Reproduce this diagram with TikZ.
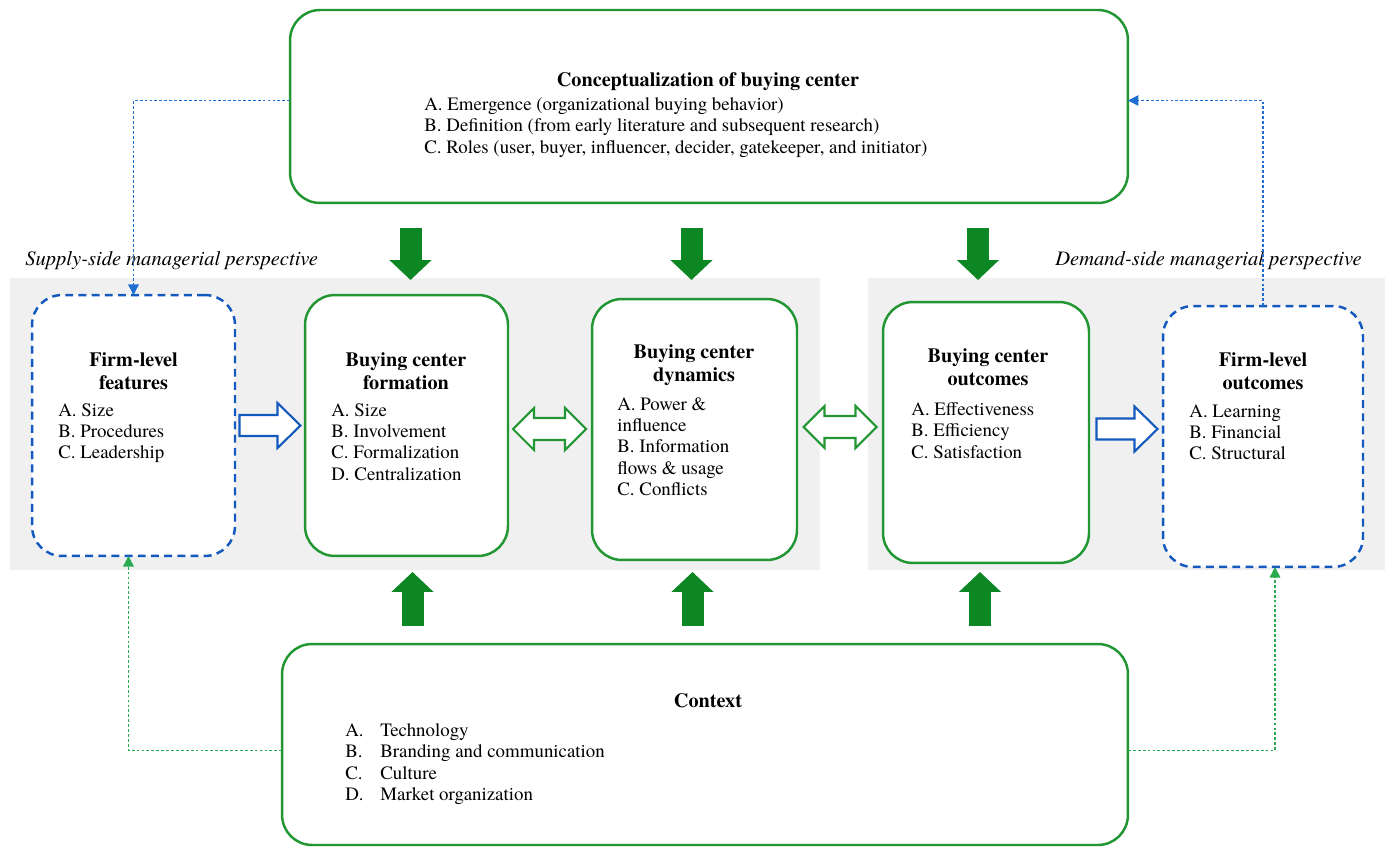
\documentclass[tikz,border=0pt]{standalone}
\usepackage{fontspec}
\IfFontExistsTF{texgyretermes-regular.otf}{%
  \setmainfont{texgyretermes}[Extension=.otf,UprightFont=*-regular,BoldFont=*-bold,ItalicFont=*-italic,BoldItalicFont=*-bolditalic]}{%
  \setmainfont{Liberation Serif}}
\usetikzlibrary{arrows.meta,calc}
\definecolor{bgreen}{RGB}{34,150,50}
\definecolor{agreen}{RGB}{12,135,35}
\definecolor{bblue}{RGB}{20,90,190}
\definecolor{dblue}{RGB}{30,110,210}
\definecolor{dgreen}{RGB}{40,170,80}
\definecolor{band}{RGB}{240,240,240}
\begin{document}
\begin{tikzpicture}[x=0.02cm,y=-0.02cm,
  gbox/.style={draw=bgreen, line width=1.4pt, rounded corners=0.6cm, fill=white, inner sep=0pt, outer sep=0pt},
  bbox/.style={draw=bblue, line width=1.4pt, dash pattern=on 4.5pt off 3pt, rounded corners=0.6cm, fill=white, inner sep=0pt, outer sep=0pt},
  ttl/.style={font=\fontsize{11.5}{13}\selectfont\bfseries, align=center, anchor=north, inner sep=0pt},
  itm/.style={font=\fontsize{10.75}{12.2}\selectfont, align=left, anchor=north west, inner sep=0pt},
  persp/.style={font=\fontsize{11.7}{13}\selectfont\itshape, anchor=north west, inner sep=0pt},
  bigarrow/.style={draw=agreen, line width=0.44cm, -{Triangle[length=0.4cm,width=0.82cm]}},
  hollowblue/.style={draw=bblue, line width=1.2pt, fill=white},
  hollowgreen/.style={draw=bgreen, line width=1.2pt, fill=white},
  dotb/.style={draw=dblue, line width=0.8pt, dash pattern=on 1.6pt off 1.2pt, -{Triangle[length=6pt,width=6pt]}},
  dotg/.style={draw=dgreen, line width=0.8pt, dash pattern=on 1.6pt off 1.2pt, -{Triangle[length=6pt,width=6pt]}}
]
\useasboundingbox (0,0) rectangle (1391,847);
% background bands
\fill[band] (10,278) rectangle (820,570);
\fill[band] (868,278) rectangle (1385,570);

% perspectives
\node[persp] (lsup) at (25,251) {Supply-side managerial perspective};
\node[persp] (ldem) at (1055,251) {Demand-side managerial perspective};

% boxes
\node[gbox, minimum width=16.76cm, minimum height=3.86cm] (concept) at (709,106.5) {};
\node[gbox, minimum width=16.92cm, minimum height=4.02cm] (ctx) at (705,744.5) {};
\node[bbox, minimum width=4.06cm, minimum height=5.22cm] (feat) at (133.5,425.5) {};
\node[gbox, minimum width=4.06cm, minimum height=5.22cm] (form) at (406.5,425.5) {};
\node[gbox, minimum width=4.10cm, minimum height=5.22cm] (dyn) at (694.5,429.5) {};
\node[gbox, minimum width=4.12cm, minimum height=5.22cm] (outc) at (986,432.5) {};
\node[bbox, minimum width=4.00cm, minimum height=5.22cm] (fout) at (1263,436.5) {};

% texts
\node[ttl] (tconcept) at (708,72) {Conceptualization of buying center};
\node[itm] (iconcept) at (424,97) {A. Emergence (organizational buying behavior)\\B. Definition (from early literature and subsequent research)\\C. Roles (user, buyer, influencer, decider, gatekeeper, and initiator)};

\node[ttl] (tfeat) at (133.5,352) {Firm-level\\features};
\node[itm] (ifeat) at (58,403) {A. Size\\B. Procedures\\C. Leadership};

\node[ttl] (tform) at (406,352) {Buying center\\formation};
\node[itm] (iform) at (331,403) {A. Size\\B. Involvement\\C. Formalization\\D. Centralization};

\node[ttl] (tdyn) at (694,344) {Buying center\\dynamics};
\node[itm] (idyn) at (617,397) {A. Power \&\\influence\\B. Information\\flows \& usage\\C. Conflicts};

\node[ttl] (toutc) at (988,348) {Buying center\\outcomes};
\node[itm] (ioutc) at (911,402) {A. Effectiveness\\B. Efficiency\\C. Satisfaction};

\node[ttl] (tfout) at (1263,352) {Firm-level\\outcomes};
\node[itm] (ifout) at (1189,404) {A. Learning\\B. Financial\\C. Structural};

\node[ttl] (tctx) at (708,693) {Context};
\node[itm] (ictx) at (345,723) {\makebox[0.7cm][l]{A.}Technology\\\makebox[0.7cm][l]{B.}Branding and communication\\\makebox[0.7cm][l]{C.}Culture\\\makebox[0.7cm][l]{D.}Market organization};

% big green arrows from concept
\draw[bigarrow] ($(concept.south -| form.north)+(4,25)$) -- ($(form.north)+(4,-15)$);
\draw[bigarrow] ($(concept.south -| dyn.north)+(-3,25)$) -- ($(dyn.north)+(-3,-19)$);
\draw[bigarrow] ($(concept.south -| outc.north)+(-8,25)$) -- ($(outc.north)+(-8,-22)$);
% big green arrows from context
\draw[bigarrow] ($(ctx.north -| form.south)+(6,-18)$) -- ($(form.south)+(6,16)$);
\draw[bigarrow] ($(ctx.north -| dyn.south)+(-2,-18)$) -- ($(dyn.south)+(-2,12)$);
\draw[bigarrow] ($(ctx.north -| outc.south)+(-6,-18)$) -- ($(outc.south)+(-6,9)$);

% hollow arrows
\coordinate (h1) at ($(feat.east)!0.5!(form.west)$);
\coordinate (h2) at (1127,429);
\coordinate (g1) at (549.5,429);
\coordinate (g2) at (840,427);
\draw[hollowblue, shift={(h1)}] (-30.5,-10.5) -- (7.5,-10.5) -- (7.5,-22.5) -- (30.5,0) -- (7.5,22.5) -- (7.5,10.5) -- (-30.5,10.5) -- cycle;
\draw[hollowblue, shift={(h2)}] (-30.5,-10.5) -- (7.5,-10.5) -- (7.5,-22.5) -- (30.5,0) -- (7.5,22.5) -- (7.5,10.5) -- (-30.5,10.5) -- cycle;
\draw[hollowgreen, shift={(g1)}] (-36.5,0) -- (-15.5,-21) -- (-15.5,-11) -- (15.5,-11) -- (15.5,-21) -- (36.5,0) -- (15.5,21) -- (15.5,11) -- (-15.5,11) -- (-15.5,21) -- cycle;
\draw[hollowgreen, shift={(g2)}] (-36.5,0) -- (-15.5,-21) -- (-15.5,-11) -- (15.5,-11) -- (15.5,-21) -- (36.5,0) -- (15.5,21) -- (15.5,11) -- (-15.5,11) -- (-15.5,21) -- cycle;

% dotted connectors
\draw[dotb] ($(concept.west)+(0,-6)$) -| (feat.north);
\draw[dotb] (fout.north) |- ($(concept.east)+(0,-6)$);
\draw[dotg] ($(ctx.west)+(0,6)$) -| ($(feat.south)+(-5,0)$);
\draw[dotg] ($(ctx.east)+(0,6)$) -| ($(fout.south)+(12,0)$);
\end{tikzpicture}
\end{document}
